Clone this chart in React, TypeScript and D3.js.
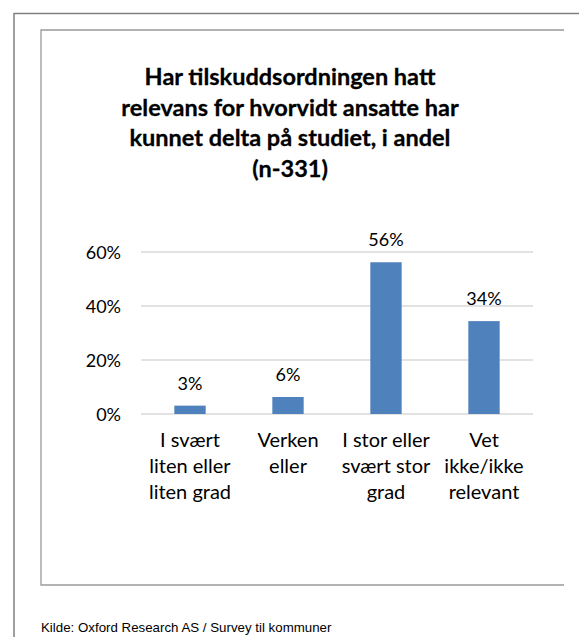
import React from "react";
import * as d3 from "d3";

const categories: string[][] = [
  ["I svært", "liten eller", "liten grad"],
  ["Verken", "eller"],
  ["I stor eller", "svært stor", "grad"],
  ["Vet", "ikke/ikke", "relevant"],
];
const categoryKeys = ["a", "b", "c", "d"];
const values = [0.031, 0.063, 0.562, 0.344];
const yTicks = [0, 0.2, 0.4, 0.6];
const titleLines = [
  "Har tilskuddsordningen hatt",
  "relevans for hvorvidt ansatte har",
  "kunnet delta på studiet, i andel",
  "(n-331)",
];
const source = "Kilde: Oxford Research AS / Survey til kommuner";

const W = 579;
const H = 637;
const FONT = "Lato, 'Open Sans', sans-serif";

export default function App() {
  const x = d3.scaleBand<string>().domain(categoryKeys).range([141, 533]).paddingInner(0.68).paddingOuter(0.34);
  const y = d3.scaleLinear().domain([0, 0.6]).range([414, 252]);
  const pct = d3.format(".0%");
  const bw = x.bandwidth();

  return (
    <svg width={W} height={H} style={{ position: "absolute", left: 0, top: 0, background: "#fff" }}>
      <rect x={0} y={0} width={W} height={H} fill="#fff" />
      {/* outer frame */}
      <line x1={14} y1={13.5} x2={W} y2={13.5} stroke="#7f7f7f" strokeWidth={1.5} />
      <line x1={14} y1={13} x2={14} y2={H} stroke="#7f7f7f" strokeWidth={1.5} />
      {/* inner chart box */}
      <path d={`M564,30 H41 V585 H564`} fill="none" stroke="#9a9a9a" strokeWidth={1.3} />

      {/* title */}
      <text fontFamily={FONT} fontWeight={700} fontSize={23.5} fill="#000" stroke="#000" strokeWidth={0.3} textAnchor="middle">
        {titleLines.map((t, i) => (
          <tspan key={i} x={290} y={85 + i * 30.5}>{t}</tspan>
        ))}
      </text>

      {/* gridlines */}
      {yTicks.map((t) => (
        <line key={t} x1={141} x2={533} y1={y(t)} y2={y(t)} stroke="#d9d9d9" strokeWidth={1.3} />
      ))}
      {/* y tick labels */}
      {yTicks.map((t) => (
        <text key={t} x={121} y={y(t) + 6.5} textAnchor="end" fontFamily={FONT} fontSize={18} fill="#000">
          {pct(t)}
        </text>
      ))}

      {/* bars */}
      {values.map((v, i) => (
        <rect key={i} x={x(categoryKeys[i])!} y={y(v)} width={bw} height={y(0) - y(v)} fill="#4f81bd" />
      ))}
      {/* data labels */}
      {values.map((v, i) => (
        <text key={i} x={x(categoryKeys[i])! + bw / 2} y={y(v) - 16} textAnchor="middle" fontFamily={FONT} fontSize={18} fill="#000">
          {pct(v)}
        </text>
      ))}

      {/* category labels */}
      {categories.map((lines, i) => (
        <text key={i} textAnchor="middle" fontFamily={FONT} fontSize={20} fill="#000">
          {lines.map((l, j) => (
            <tspan key={j} x={x(categoryKeys[i])! + bw / 2} y={447 + j * 26}>{l}</tspan>
          ))}
        </text>
      ))}

      {/* source */}
      <text x={41} y={632} fontFamily="'Liberation Sans Narrow', 'Liberation Sans', Arial, sans-serif" fontSize={13.3} fill="#000">
        {source}
      </text>
    </svg>
  );
}
